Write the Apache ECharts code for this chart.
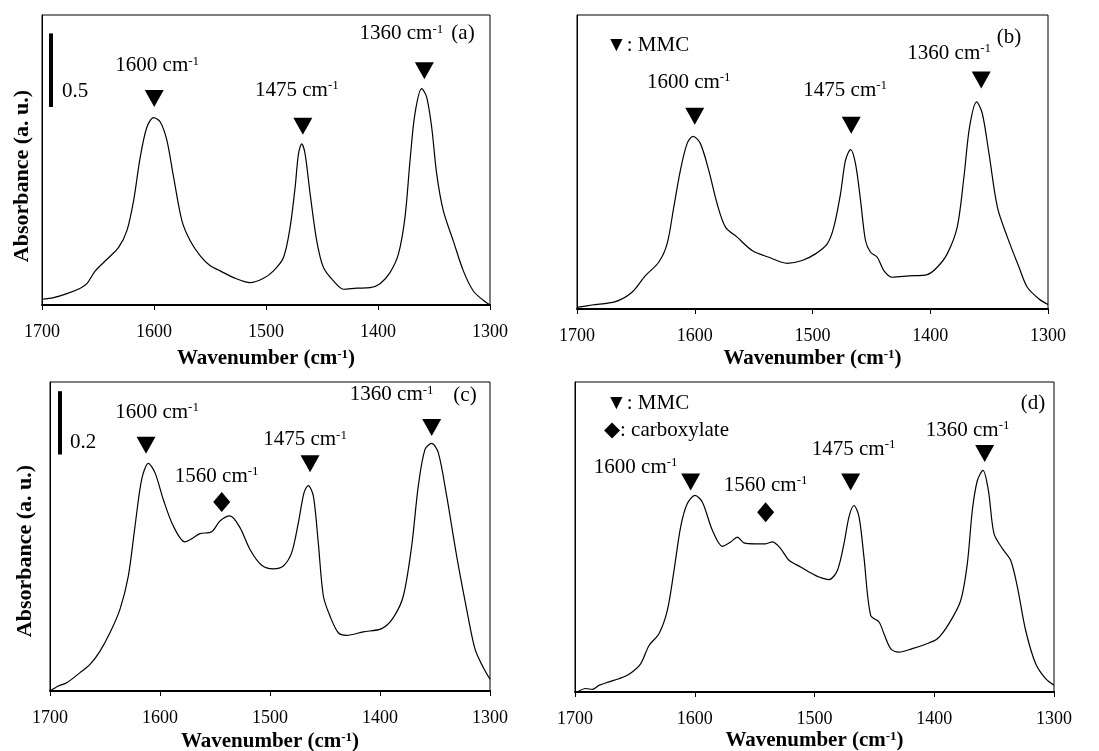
<!DOCTYPE html>
<html>
<head>
<meta charset="utf-8">
<script src="https://cdn.jsdelivr.net/npm/echarts@6.0.0/dist/echarts.min.js"></script>
<style>
  html, body { margin: 0; padding: 0; background: #fff; }
  #main { width: 1099px; height: 751px; }
</style>
</head>
<body>
<div id="main"></div>
<script>
// wavenumber (cm-1) and absorbance
var wnA = [1700,1689.6,1677.7,1665.8,1659.9,1652.4,1642,1631.6,1624.2,1618.2,1612.3,1606.3,1600.4,1594.4,1588.5,1582.5,1575.1,1567.7,1558.7,1549.8,1540.9,1529,1514.1,1502.2,1493.3,1484.4,1478.5,1474,1471,1468.1,1465.1,1460.6,1454.7,1448.7,1439.8,1430.9,1419,1407.1,1398.2,1389.3,1381.8,1375.9,1371.4,1367,1361,1356.6,1352.1,1347.6,1341.7,1332.8,1323.8,1314.9,1306,1300];
var absA = [0.039,0.050,0.077,0.114,0.145,0.232,0.311,0.391,0.505,0.709,1.005,1.209,1.273,1.243,1.118,0.868,0.573,0.436,0.334,0.266,0.232,0.186,0.152,0.182,0.232,0.323,0.527,0.800,1.027,1.095,1.027,0.755,0.436,0.255,0.164,0.107,0.114,0.118,0.145,0.220,0.345,0.595,0.982,1.300,1.470,1.414,1.209,0.891,0.641,0.436,0.232,0.095,0.032,0];

var wnB = [1700,1687.3,1667.4,1653.3,1641.9,1630.6,1623.5,1617.8,1612.2,1606.5,1601.4,1595.2,1588.1,1581,1573.9,1564,1551.3,1537.1,1521.5,1508.8,1497.5,1487.5,1481.9,1476.2,1472,1467.7,1463.5,1459.2,1455,1450.7,1445,1439.4,1432.3,1418.1,1402.6,1394.1,1385.6,1377.1,1371.4,1366.6,1360.6,1355.8,1350.1,1343,1334.5,1324.6,1317.6,1307.6,1300];
var absB = [0.011,0.027,0.050,0.114,0.227,0.318,0.443,0.693,0.943,1.125,1.175,1.125,0.943,0.716,0.557,0.489,0.398,0.352,0.311,0.330,0.375,0.443,0.557,0.784,1.011,1.084,0.989,0.739,0.466,0.386,0.352,0.261,0.216,0.225,0.234,0.284,0.375,0.557,0.898,1.239,1.409,1.330,1.057,0.693,0.489,0.284,0.148,0.068,0.030];

var wnC = [1700,1692.4,1684.8,1672.7,1663.6,1654.5,1645.5,1636.4,1628.8,1622.7,1616.7,1610.6,1604.5,1597,1587.9,1577.3,1569.7,1563.6,1553,1545.5,1536.4,1527.3,1518.2,1507.6,1497,1487.9,1480.3,1474.2,1469.1,1465.2,1460.6,1456.1,1451.5,1445.5,1437.9,1430.3,1415.2,1398.5,1387.9,1378.8,1371.2,1365.2,1359.1,1353,1347,1339.4,1330.3,1321.2,1313.6,1306.1,1300];
var absC = [0,0.016,0.026,0.058,0.084,0.126,0.184,0.258,0.363,0.521,0.668,0.719,0.689,0.605,0.521,0.471,0.484,0.497,0.503,0.537,0.553,0.516,0.447,0.397,0.386,0.395,0.437,0.532,0.626,0.649,0.616,0.468,0.300,0.237,0.184,0.176,0.187,0.197,0.232,0.300,0.458,0.647,0.763,0.782,0.753,0.616,0.426,0.258,0.132,0.074,0.037];

var wnD = [1698,1691.1,1685.5,1680,1671.6,1663.3,1654.9,1645.2,1638.2,1629.9,1622.9,1617.3,1611.8,1606.2,1599.8,1593.7,1585.3,1577,1570,1564.4,1558.9,1549.1,1540.8,1535.2,1528.3,1521.3,1511.6,1504.6,1496.2,1487.9,1480.9,1475.4,1471.2,1467,1462.8,1458.7,1453.1,1446.1,1442,1436.4,1429.4,1418.3,1407.2,1397.4,1387.7,1377.9,1372.4,1368.2,1364,1359.3,1354.8,1350.1,1343.1,1336.2,1330.6,1323.7,1315.3,1307,1300];
var absD = [0,0.011,0.008,0.021,0.032,0.042,0.056,0.089,0.147,0.184,0.258,0.384,0.521,0.595,0.621,0.600,0.511,0.460,0.474,0.489,0.471,0.468,0.468,0.474,0.453,0.416,0.395,0.379,0.363,0.355,0.384,0.468,0.553,0.589,0.553,0.426,0.242,0.221,0.184,0.137,0.126,0.137,0.151,0.168,0.216,0.289,0.405,0.574,0.668,0.700,0.637,0.500,0.453,0.416,0.332,0.195,0.089,0.042,0.021];

// band markers: ▼ = MMC, ◆ = carboxylate
var triWnA = [1599.8, 1467.1, 1358.6], triAbsA = [1.402, 1.214, 1.591];
var triWnB = [1600, 1467.1, 1356.7],   triAbsB = [1.311, 1.25, 1.557];
var triWnC = [1612.7, 1463.6, 1353],   triAbsC = [0.776, 0.718, 0.832];
var triWnD = [1603.4, 1469.8, 1357.9], triAbsD = [0.663, 0.663, 0.753];
var triLabels = ['1600', '1475', '1360'];
var diaWnC = [1543.9], diaAbsC = [0.597];
var diaWnD = [1540.8], diaAbsD = [0.568];
var diaLabels = ['1560'];

// absorbance scale bars
var barA = {wn: 1692, from: 1.345, to: 1.845, text: '0.5'};
var barC = {wn: 1690.9, from: 0.747, to: 0.947, text: '0.2'};

var xTicks = {min: 1300, max: 1700, step: 100};

var FONT = '"Liberation Serif", "Times New Roman", serif';
var chart = echarts.init(document.getElementById('main'));

function zip(a, b) {
  return a.map(function (v, i) { return [v, b[i]]; });
}

var panels = [
  {grid: {left: 42, top: 15, width: 448, height: 290}, ymax: 1.97, wn: wnA, ab: absA,
   tri: zip(triWnA, triAbsA), triOff: [[3, -33], [-6, -36], [-23, -37]],
   dia: [], diaOff: [], bar: barA, nameGap: 43},
  {grid: {left: 577, top: 15, width: 471, height: 294}, ymax: 2.0, wn: wnB, ab: absB,
   tri: zip(triWnB, triAbsB), triOff: [[-6, -34], [-6, -35], [-32, -27]],
   dia: [], diaOff: [], bar: null, nameGap: 39},
  {grid: {left: 50, top: 382, width: 440, height: 309}, ymax: 0.976, wn: wnC, ab: absC,
   tri: zip(triWnC, triAbsC), triOff: [[11, -33], [-5, -24], [-40, -33]],
   dia: zip(diaWnC, diaAbsC), diaOff: [[-5, -26]], bar: barC, nameGap: 40},
  {grid: {left: 575, top: 382, width: 479, height: 310}, ymax: 0.979, wn: wnD, ab: absD,
   tri: zip(triWnD, triAbsD), triOff: [[-55, -15], [3, -33], [-17, -23]],
   dia: zip(diaWnD, diaAbsD), diaOff: [[0, -27]], bar: null, nameGap: 38}
];

var rich = {
  n: {fontSize: 21, fontFamily: FONT, color: '#000', lineHeight: 22},
  s: {fontSize: 13, fontFamily: FONT, color: '#000', lineHeight: 12, verticalAlign: 'top'}
};

function peakLabel(txt) { return '{n|' + txt + ' cm}{s|-1}'; }

var grids = [], xAxes = [], yAxes = [], series = [];

panels.forEach(function (p, i) {
  grids.push(Object.assign({show: true, borderColor: '#000', borderWidth: 1, outerBoundsMode: 'none'}, p.grid));
  xAxes.push({
    gridIndex: i, type: 'value', inverse: true,
    min: xTicks.min, max: xTicks.max, interval: xTicks.step,
    axisLine: {show: true, onZero: false, lineStyle: {color: '#000', width: 2}},
    axisTick: {show: true, length: 5, lineStyle: {color: '#000', width: 1}},
    axisLabel: {color: '#000', fontSize: 18, fontFamily: FONT, margin: 18,
      formatter: function (v) { return String(v); }},
    splitLine: {show: false},
    name: '{b|Wavenumber (cm}{bs|-1}{b|)}',
    nameLocation: 'middle', nameGap: p.nameGap,
    nameTextStyle: {rich: {
      b: {fontSize: 21, fontWeight: 'bold', fontFamily: FONT, color: '#000', lineHeight: 22},
      bs: {fontSize: 13, fontWeight: 'bold', fontFamily: FONT, color: '#000', lineHeight: 12, verticalAlign: 'top'}
    }}
  });
  yAxes.push({
    gridIndex: i, type: 'value', min: 0, max: p.ymax,
    axisLine: {show: true, onZero: false, lineStyle: {color: '#000', width: 1}},
    axisTick: {show: false}, axisLabel: {show: false}, splitLine: {show: false}
  });

  var line = {
    type: 'line', xAxisIndex: i, yAxisIndex: i,
    data: zip(p.wn, p.ab), showSymbol: false, smooth: 0.3, silent: true,
    lineStyle: {color: '#000', width: 1.2}, z: 3
  };
  if (p.bar) {
    line.markLine = {
      silent: true, symbol: 'none', label: {show: false},
      lineStyle: {color: '#000', width: 4, type: 'solid', opacity: 1},
      data: [[{coord: [p.bar.wn, p.bar.from]}, {coord: [p.bar.wn, p.bar.to]}]]
    };
  }
  series.push(line);

  series.push({
    type: 'scatter', xAxisIndex: i, yAxisIndex: i, silent: true,
    symbol: 'triangle', symbolRotate: 180, symbolSize: [19, 17],
    itemStyle: {color: '#000', opacity: 1},
    data: p.tri.map(function (d, k) {
      return {value: d, label: {show: true, position: 'inside', offset: p.triOff[k],
        color: '#000', opacity: 1, formatter: peakLabel(triLabels[k]), rich: rich}};
    })
  });
  if (p.dia.length) {
    series.push({
      type: 'scatter', xAxisIndex: i, yAxisIndex: i, silent: true,
      symbol: 'diamond', symbolSize: [17, 20],
      itemStyle: {color: '#000', opacity: 1},
      data: p.dia.map(function (d, k) {
        return {value: d, label: {show: true, position: 'inside', offset: p.diaOff[k],
          color: '#000', opacity: 1, formatter: peakLabel(diaLabels[k]), rich: rich}};
      })
    });
  }
});

function txt(x, y, s, opt) {
  return {
    type: 'text', x: x, y: y, silent: true,
    style: Object.assign({text: s, font: '21px ' + FONT, fill: '#000',
      textAlign: 'center', textVerticalAlign: 'middle', align: 'center', verticalAlign: 'middle'}, opt || {})
  };
}

var yName = 'bold 22px ' + FONT;
var graphics = [
  txt(463, 33, '(a)'), txt(1009, 37, '(b)'), txt(465, 395, '(c)'), txt(1033, 403, '(d)'),
  txt(75, 91, barA.text), txt(83, 442, barC.text),
  txt(606, 45, '\u25BC: MMC', {textAlign: 'left', align: 'left'}),
  txt(606, 403, '\u25BC: MMC', {textAlign: 'left', align: 'left'}),
  txt(604, 430, '\u25C6: carboxylate', {textAlign: 'left', align: 'left'}),
  Object.assign(txt(22, 176, 'Absorbance (a. u.)', {font: yName}), {rotation: Math.PI / 2}),
  Object.assign(txt(25, 551, 'Absorbance (a. u.)', {font: yName}), {rotation: Math.PI / 2})
];

chart.setOption({
  backgroundColor: '#fff',
  animation: false,
  grid: grids,
  xAxis: xAxes,
  yAxis: yAxes,
  series: series,
  graphic: graphics
});
</script>
</body>
</html>
